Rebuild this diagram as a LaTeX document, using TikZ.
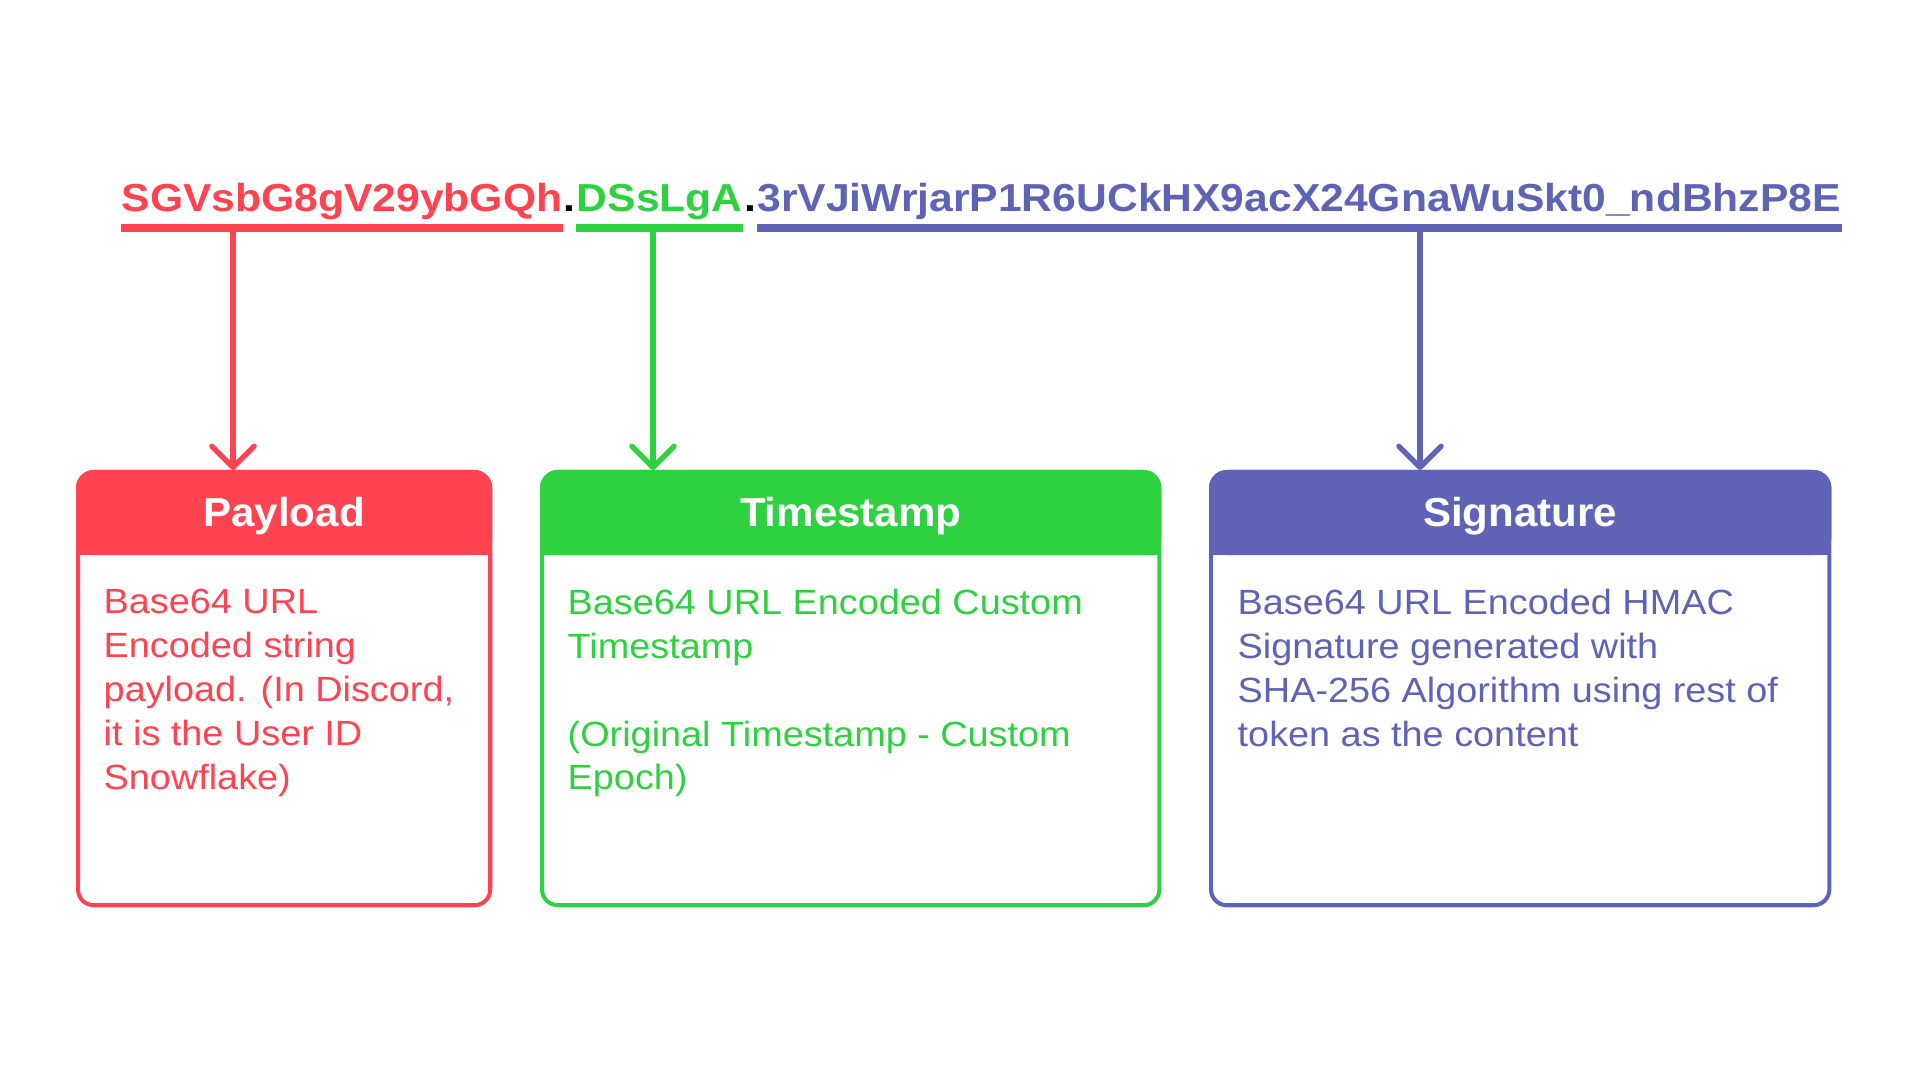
\documentclass[tikz,border=0pt]{standalone}
\usepackage{fontspec}
\setmainfont{Liberation Sans}
\newfontfamily\tokfont[FakeStretch=1.092]{Liberation Sans}
\newfontfamily\headfont[FakeStretch=1.04]{Liberation Sans}
\newfontfamily\bodyfont[FakeStretch=1.08]{Liberation Sans}
\usepackage{xcolor}
\usepackage{tikz}
\usetikzlibrary{arrows.meta,positioning}

\definecolor{payred}{HTML}{FF4350}
\definecolor{stampgreen}{HTML}{2ED140}
\definecolor{signblue}{HTML}{5E63B6}

\begin{document}
\begin{tikzpicture}[x=0.01cm, y=-0.01cm,
    tok/.style={inner sep=0pt, anchor=base west, font=\tokfont\bfseries\fontsize{11.1pt}{13pt}\selectfont},
    under/.style={line width=2.28pt},
    link/.style={line width=1.5pt, line cap=round, -{Straight Barb[length=6pt,width=12pt,round]}},
    card/.style={draw, line width=1.14pt, rounded corners=4.5pt, fill=white, inner sep=0pt, anchor=north west, minimum height=4.33cm},
    head/.style={rounded corners=5.1pt, inner sep=0pt, outer sep=0pt, anchor=north west, minimum height=0.85cm},
    title/.style={text=white, inner sep=0pt, anchor=base, font=\headfont\bfseries\fontsize{11.5pt}{14pt}\selectfont},
    desc/.style={inner sep=0pt, anchor=north west, align=left, font=\bodyfont\fontsize{9.96pt}{12.5pt}\selectfont}]
    \path[use as bounding box, fill=white] (0,0) rectangle (1920,1080);

    % Token string
    \node[tok, text=payred] (tokP) at (121,212) {SGVsbG8gV29ybGQh};
    \node[tok] (dotA) at (tokP.base east) {.};
    \node[tok, text=stampgreen] (tokT) at (dotA.base east) {DSsLgA};
    \node[tok] (dotB) at (tokT.base east) {.};
    \node[tok, text=signblue] (tokS) at (dotB.base east) {3rVJiWrjarP1R6UCkHX9acX24GnaWuSkt0\_ndBhzP8E};

    % Underlines
    \draw[under, payred] ([yshift=-0.16cm]tokP.base west) -- ([yshift=-0.16cm]tokP.base east);
    \draw[under, stampgreen] ([yshift=-0.16cm]tokT.base west) -- ([yshift=-0.16cm]tokT.base east);
    \draw[under, signblue] ([yshift=-0.16cm]tokS.base west) -- ([yshift=-0.16cm]tokS.base east);

    % Cards
    \node[card, draw=payred, minimum width=4.12cm] (pay) at (76,470) {};
    \node[head, fill=payred, minimum width=4.16cm] (payH) at (pay.north west) {};
    \fill[payred] (payH.west) rectangle (payH.south east);
    \node[title] (payT) at ([yshift=-0.135cm]payH.center) {Payload};
    \node[desc, text=payred] (payD) at ([xshift=0.27cm, yshift=-1.18cm]pay.north west)
        {Base64 URL\\Encoded string\\payload. (In Discord,\\it is the User ID\\Snowflake)};

    \node[card, draw=stampgreen, minimum width=6.17cm] (stamp) at (540,470) {};
    \node[head, fill=stampgreen, minimum width=6.21cm] (stampH) at (stamp.north west) {};
    \fill[stampgreen] (stampH.west) rectangle (stampH.south east);
    \node[title] (stampT) at ([yshift=-0.135cm]stampH.center) {Timestamp};
    \node[desc, text=stampgreen] (stampD) at ([xshift=0.27cm, yshift=-1.18cm]stamp.north west)
        {Base64 URL Encoded Custom\\Timestamp\\[12.5pt](Original Timestamp - Custom\\Epoch)};

    \node[card, draw=signblue, minimum width=6.18cm] (sign) at (1209,470) {};
    \node[head, fill=signblue, minimum width=6.22cm] (signH) at (sign.north west) {};
    \fill[signblue] (signH.west) rectangle (signH.south east);
    \node[title] (signT) at ([yshift=-0.135cm]signH.center) {Signature};
    \node[desc, text=signblue] (signD) at ([xshift=0.28cm, yshift=-1.18cm]sign.north west)
        {Base64 URL Encoded HMAC\\Signature generated with\\SHA-256 Algorithm using rest of\\token as the content};

    % Links
    \coordinate (payOut) at (233,228);
    \coordinate (stampOut) at (653,228);
    \coordinate (signOut) at (1420,228);
    \draw[link, payred] (payOut) -- (payOut |- pay.north);
    \draw[link, stampgreen] (stampOut) -- (stampOut |- stamp.north);
    \draw[link, signblue] (signOut) -- (signOut |- sign.north);
\end{tikzpicture}
\end{document}
